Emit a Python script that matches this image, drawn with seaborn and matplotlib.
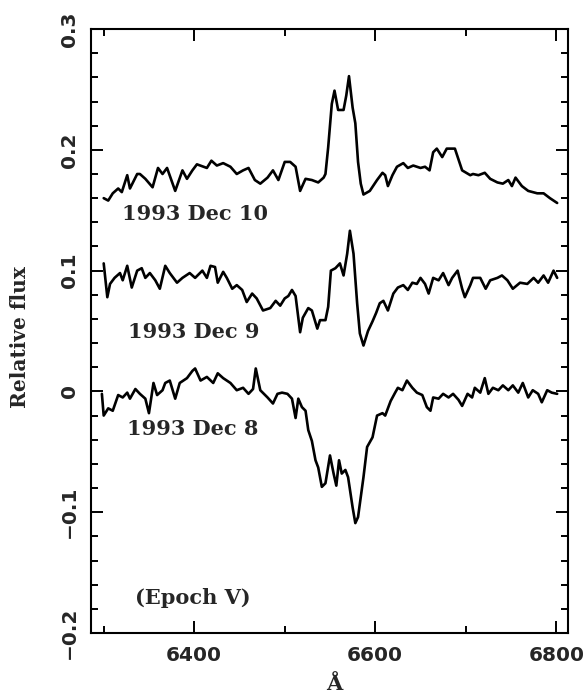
import matplotlib
matplotlib.use("Agg")
import matplotlib.pyplot as plt
from matplotlib.ticker import MultipleLocator, FixedLocator
import seaborn as sns
import pandas as pd

# ---- data ----
wl_dec10 = [6300, 6305, 6310, 6316, 6320, 6326, 6329, 6337, 6340, 6346, 6354, 6360, 6365, 6370,
            6379, 6387, 6392, 6398, 6403, 6414, 6419, 6425, 6432, 6440, 6447, 6454, 6460, 6467,
            6473, 6481, 6484, 6487, 6493, 6500, 6506, 6512, 6517, 6523, 6530, 6537, 6543, 6545,
            6548, 6552, 6555, 6559, 6565, 6568, 6571, 6575, 6578, 6581, 6584, 6587, 6594, 6602,
            6608, 6611, 6614, 6619, 6624, 6631, 6636, 6642, 6650, 6655, 6660, 6664, 6668, 6674,
            6679, 6688, 6696, 6705, 6708, 6714, 6721, 6727, 6735, 6741, 6747, 6751, 6755, 6762,
            6769, 6779, 6786, 6793, 6801]
fx_dec10 = [0.160, 0.158, 0.164, 0.168, 0.165, 0.179, 0.168, 0.180, 0.180, 0.176, 0.169, 0.185,
            0.180, 0.185, 0.166, 0.183, 0.176, 0.183, 0.188, 0.185, 0.191, 0.187, 0.189, 0.186,
            0.180, 0.183, 0.185, 0.175, 0.172, 0.177, 0.180, 0.183, 0.175, 0.190, 0.190, 0.186,
            0.166, 0.176, 0.175, 0.173, 0.177, 0.180, 0.202, 0.238, 0.249, 0.233, 0.233, 0.245,
            0.261, 0.235, 0.222, 0.190, 0.172, 0.163, 0.166, 0.175, 0.181, 0.179, 0.170, 0.179,
            0.186, 0.189, 0.185, 0.187, 0.185, 0.186, 0.183, 0.198, 0.201, 0.194, 0.201, 0.201,
            0.183, 0.179, 0.180, 0.179, 0.181, 0.176, 0.173, 0.172, 0.175, 0.170, 0.177, 0.170,
            0.166, 0.164, 0.164, 0.160, 0.156]

wl_dec9 = [6300, 6304, 6307, 6312, 6318, 6321, 6326, 6331, 6337, 6342, 6346, 6351, 6357, 6362,
           6368, 6373, 6381, 6387, 6395, 6401, 6409, 6414, 6418, 6423, 6426, 6432, 6436, 6442,
           6447, 6453, 6458, 6464, 6469, 6476, 6484, 6490, 6495, 6500, 6504, 6508, 6512, 6517,
           6520, 6526, 6530, 6536, 6539, 6545, 6548, 6551, 6556, 6561, 6565, 6569, 6572, 6576,
           6580, 6583, 6587, 6592, 6597, 6601, 6605, 6609, 6614, 6620, 6625, 6631, 6636, 6641,
           6646, 6650, 6655, 6659, 6664, 6670, 6675, 6681, 6685, 6691, 6696, 6699, 6705, 6708,
           6716, 6722, 6727, 6735, 6740, 6746, 6752, 6760, 6768, 6775, 6780, 6786, 6791, 6797,
           6801]
fx_dec9 = [0.106, 0.078, 0.089, 0.094, 0.098, 0.092, 0.104, 0.086, 0.100, 0.102, 0.094, 0.098,
           0.092, 0.085, 0.104, 0.098, 0.090, 0.094, 0.098, 0.094, 0.100, 0.094, 0.104, 0.103,
           0.090, 0.099, 0.094, 0.085, 0.088, 0.084, 0.074, 0.081, 0.077, 0.067, 0.069, 0.075,
           0.071, 0.077, 0.079, 0.084, 0.079, 0.049, 0.061, 0.069, 0.067, 0.052, 0.059, 0.059,
           0.070, 0.100, 0.102, 0.106, 0.096, 0.114, 0.133, 0.114, 0.073, 0.048, 0.038, 0.050,
           0.058, 0.065, 0.073, 0.075, 0.067, 0.081, 0.086, 0.088, 0.084, 0.090, 0.089, 0.094,
           0.089, 0.081, 0.094, 0.092, 0.098, 0.088, 0.094, 0.100, 0.085, 0.078, 0.088, 0.094,
           0.094, 0.085, 0.092, 0.094, 0.096, 0.092, 0.085, 0.090, 0.089, 0.094, 0.090, 0.096,
           0.090, 0.100, 0.094]

wl_dec8 = [6298, 6300, 6305, 6310, 6316, 6321, 6326, 6329, 6335, 6340, 6346, 6350, 6355, 6359,
           6365, 6368, 6373, 6379, 6384, 6392, 6398, 6401, 6407, 6414, 6421, 6426, 6432, 6440,
           6447, 6454, 6460, 6465, 6468, 6473, 6481, 6487, 6492, 6497, 6503, 6508, 6512, 6515,
           6519, 6523, 6526, 6530, 6534, 6537, 6541, 6545, 6550, 6554, 6557, 6560, 6563, 6567,
           6570, 6575, 6578, 6581, 6587, 6591, 6597, 6602, 6608, 6611, 6617, 6622, 6625, 6630,
           6635, 6641, 6646, 6652, 6657, 6661, 6664, 6670, 6675, 6681, 6686, 6692, 6696, 6702,
           6707, 6710, 6716, 6721, 6725, 6730, 6736, 6741, 6747, 6752, 6758, 6763, 6769, 6774,
           6780, 6784, 6790, 6795, 6801]
fx_dec8 = [-0.002, -0.020, -0.014, -0.016, -0.003, -0.005, -0.001, -0.006, 0.002, -0.002, -0.006,
           -0.018, 0.007, -0.003, 0.001, 0.007, 0.009, -0.006, 0.007, 0.011, 0.017, 0.019, 0.009,
           0.012, 0.007, 0.015, 0.011, 0.007, 0.001, 0.003, -0.002, 0.002, 0.019, 0.001, -0.005,
           -0.010, -0.002, -0.001, -0.002, -0.006, -0.022, -0.006, -0.013, -0.016, -0.032, -0.041,
           -0.057, -0.063, -0.079, -0.076, -0.053, -0.068, -0.078, -0.057, -0.068, -0.065, -0.071,
           -0.096, -0.109, -0.104, -0.071, -0.046, -0.038, -0.020, -0.018, -0.020, -0.008, -0.001,
           0.003, 0.001, 0.009, 0.003, -0.001, -0.003, -0.013, -0.016, -0.005, -0.006, -0.002,
           -0.005, -0.002, -0.007, -0.012, -0.002, -0.005, 0.003, -0.001, 0.011, -0.002, 0.003,
           0.001, 0.005, 0.001, 0.005, -0.001, 0.007, -0.005, 0.001, -0.002, -0.009, 0.001,
           -0.001, -0.002]

epoch_labels = ["1993 Dec 10", "1993 Dec 9", "1993 Dec 8"]
x_ticks = [6400, 6600, 6800]
y_ticks = [-0.2, -0.1, 0.0, 0.1, 0.2, 0.3]
y_tick_labels = ["\u22120.2", "\u22120.1", "0", "0.1", "0.2", "0.3"]

# ---- plot ----
sns.set_style("ticks")
plt.rcParams["font.family"] = ["DejaVu Sans"]

fig = plt.figure(figsize=(5.85, 6.98), dpi=100)
ax = fig.add_axes([0.1556, 0.0931, 0.8154, 0.8653])

for wl, fx in [(wl_dec10, fx_dec10), (wl_dec9, fx_dec9), (wl_dec8, fx_dec8)]:
    df = pd.DataFrame({"wl": wl, "flux": fx})
    sns.lineplot(data=df, x="wl", y="flux", ax=ax, color="black", linewidth=1.9,
                 estimator=None, sort=False, legend=False)

ax.set_xlim(6286, 6813)
ax.set_ylim(-0.2, 0.3)

ax.xaxis.set_major_locator(FixedLocator(x_ticks))
ax.xaxis.set_minor_locator(MultipleLocator(100))
ax.yaxis.set_major_locator(FixedLocator(y_ticks))
ax.yaxis.set_minor_locator(MultipleLocator(0.02))
ax.set_xticklabels([str(t) for t in x_ticks], fontsize=14.5, fontweight="bold")
ax.set_yticklabels(y_tick_labels, fontsize=14.5, fontweight="bold", rotation=90, va="center")

ax.tick_params(which="both", direction="in", top=True, right=True, width=1.4, color="black")
ax.tick_params(which="major", length=8.5)
ax.tick_params(which="minor", length=5)
ax.tick_params(axis="x", which="major", pad=9)
ax.tick_params(axis="y", which="major", pad=9)
for s in ax.spines.values():
    s.set_linewidth(1.5)
    s.set_color("black")

serif = dict(family="DejaVu Serif", fontweight="bold")
ax.set_xlabel("\u00c5", fontsize=15, **serif)
ax.set_ylabel("Relative flux", fontsize=14.5, **serif)
ax.xaxis.set_label_coords(0.51, -0.068)
ax.yaxis.set_label_coords(-0.128, 0.49)

ax.text(6320, 0.147, epoch_labels[0], fontsize=15, va="center", ha="left", **serif)
ax.text(6327, 0.049, epoch_labels[1], fontsize=15, va="center", ha="left", **serif)
ax.text(6326, -0.031, epoch_labels[2], fontsize=15, va="center", ha="left", **serif)
ax.text(6335, -0.171, "(Epoch V)", fontsize=15, va="center", ha="left", **serif)

fig.savefig("out.png", dpi=100)
